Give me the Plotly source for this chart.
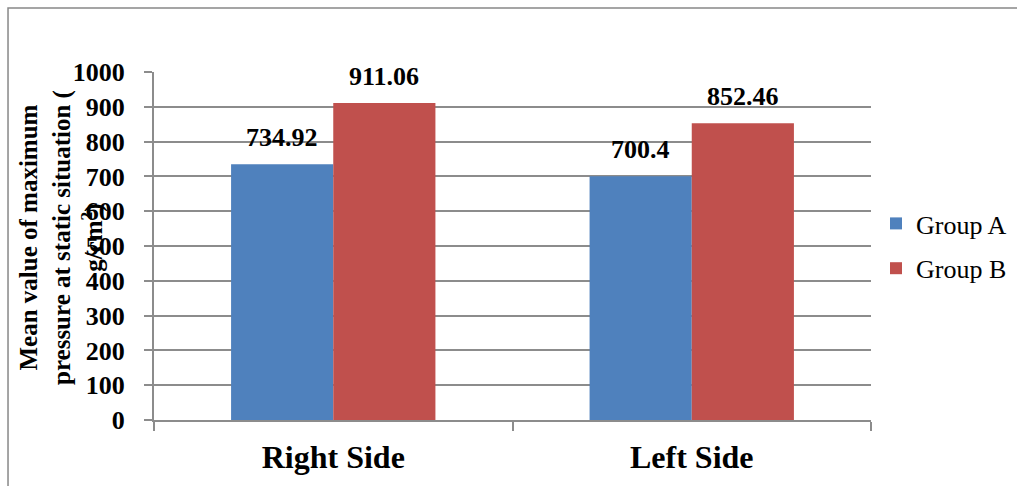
import plotly.graph_objects as go

categories = ["Right Side", "Left Side"]
group_a = [734.92, 700.4]
group_b = [911.06, 852.46]
series_names = ["Group A", "Group B"]
colors = ["#4F81BD", "#C0504D"]
y_ticks = [0, 100, 200, 300, 400, 500, 600, 700, 800, 900, 1000]

FONT = "Liberation Serif, Times New Roman, serif"
GRID = "#8c8c8c"
bargap = 0.43

fig = go.Figure()
for name, vals, col in zip(series_names, [group_a, group_b], colors):
    fig.add_trace(go.Bar(x=categories, y=vals, name=name, marker_color=col,
                         marker_line_width=0, legendgroup=name))

# data labels above bars
bar_w = (1 - bargap) / 2
for si, vals in enumerate([group_a, group_b]):
    off = (si - 0.5) * bar_w
    for ci, v in enumerate(vals):
        fig.add_annotation(x=ci + off, y=v, xref="x", yref="y",
                           text="%g" % v, showarrow=False,
                           yanchor="bottom", yshift=10,
                           font=dict(family=FONT, size=26, color="black", weight="bold"))

# y axis title (three lines, as wrapped in the original)
fig.add_annotation(xref="paper", yref="paper", x=0, y=0.523, xshift=-92,
                   xanchor="center", yanchor="middle", textangle=-90,
                   text="Mean value of maximum<br>pressure at static situation (<br>g/cm<sup>2</sup>)",
                   showarrow=False, align="center",
                   font=dict(family=FONT, size=25, color="black", weight="bold"))

# outer chart frame
fig.add_shape(type="rect", xref="paper", yref="paper",
              x0=-0.2036, x1=1.25, y0=-0.25, y1=1.184,
              line=dict(color="#888888", width=1.5), fillcolor="rgba(0,0,0,0)")

fig.update_layout(
    width=1017, height=486,
    margin=dict(l=154, r=146, t=72, b=66, autoexpand=False),
    paper_bgcolor="white", plot_bgcolor="white",
    barmode="group", bargap=bargap, bargroupgap=0,
    font=dict(family=FONT, color="black"),
    showlegend=True,
    legend=dict(x=1.007, xanchor="left", y=0.5, yanchor="middle",
                font=dict(family=FONT, size=26, color="black"),
                traceorder="grouped", tracegroupgap=8,
                bgcolor="rgba(0,0,0,0)"),
    xaxis=dict(type="category", showline=True, linecolor=GRID, linewidth=2,
               ticks="outside", tickson="boundaries", ticklen=9, tickcolor=GRID,
               tickwidth=2, showgrid=False, automargin=False,
               tickfont=dict(family=FONT, size=32, color="black", weight="bold"),
               ticklabelstandoff=8),
    yaxis=dict(range=[0, 1000], tickvals=y_ticks, showline=True, linecolor=GRID,
               linewidth=2, ticks="outside", ticklen=8, tickcolor=GRID, tickwidth=2,
               showgrid=True, gridcolor=GRID, gridwidth=2, zeroline=False,
               automargin=False,
               tickfont=dict(family=FONT, size=26, color="black", weight="bold"),
               ticklabelstandoff=14),
)

fig.write_html("out.html")
